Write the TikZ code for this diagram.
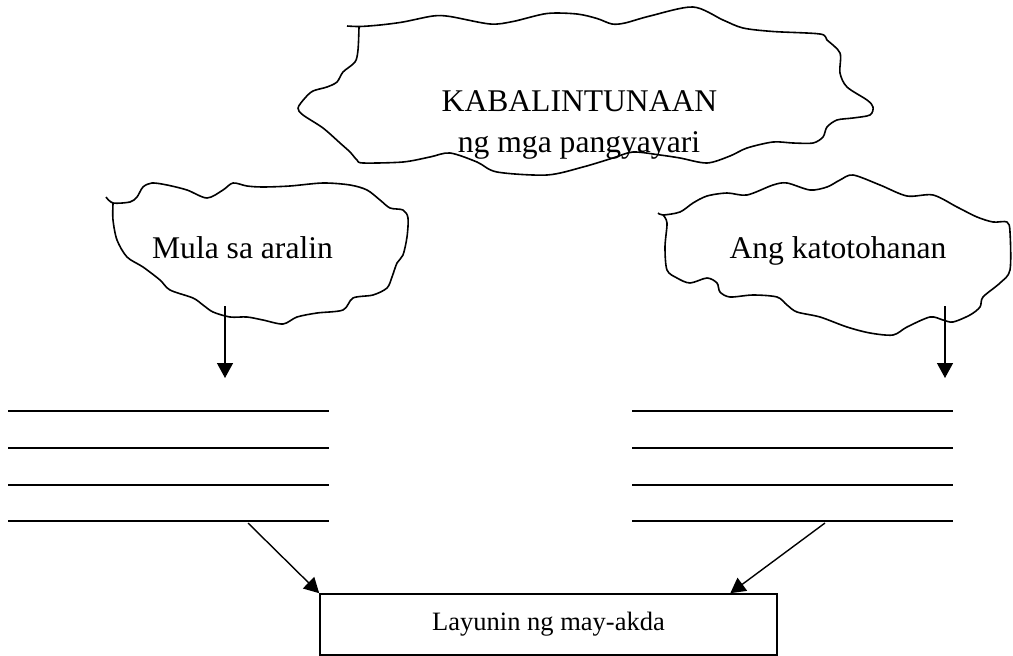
\documentclass[tikz,border=0pt]{standalone}
\usepackage{fontspec}
\setmainfont{Liberation Serif}
\usetikzlibrary{arrows.meta}
\begin{document}
\begin{tikzpicture}[x=1pt,y=-1pt,
  cloudline/.style={line width=1.6pt, line join=round},
  bigtext/.style={font=\fontsize{31.6}{41}\selectfont, inner sep=0pt, anchor=base},
  blank/.style={line width=1.2pt},
  arr/.style={line width=1.4pt, -{Triangle[length=15pt,width=16pt]}},
  goalbox/.style={draw, line width=1.6pt, minimum width=457pt, minimum height=61pt, inner sep=0pt, font=\fontsize{26.5}{30}\selectfont}]
\useasboundingbox (0,0) rectangle (1013,656);
% top cloud
\draw[cloudline] plot[smooth, tension=0.5] coordinates {
(347,26) (360,26.5) (380,25) (403,22) (433,16) (450,16.5) (490,24) (513,21.5) (547,13.5) (577,14) (597,18.5) (612,24) (625,23) (650,16) (693,7) (723,20) (743,28) (773,31.5) (820,34) (827,40) (840,53) (840,73) (847,87) (867,100) (873,107) (870,115) (853,118) (837,120) (827,127) (823,137) (813,143) (793,143) (773,142) (747,148) (730,156) (707,163) (680,158) (660,155) (633,152) (613,158) (583,167) (547,175) (497,172) (477,162) (450,153) (430,157) (403,162) (363,163) (357,160) (350,152) (340,143) (323,128) (303,115) (298,108) (305,98) (313,91) (327,87) (337,82) (343,72) (355,62) (358,50) (359,27)};
\node[bigtext] (title) at (579.5,111) {KABALINTUNAAN};
\node[bigtext] (subtitle) at (579,152) {ng mga pangyayari};
% left cloud
\draw[cloudline] plot[smooth, tension=0.5] coordinates {
(106,197) (113,203) (130,202) (137,197) (143,187) (152,183) (167,185) (187,190) (207,198) (223,190) (233,183) (247,186) (263,187) (290,186) (323,183) (350,185) (367,190) (380,200) (390,208) (403,210) (408,218) (407,237) (403,255) (397,263) (392,277) (387,288) (373,295) (353,298) (343,310) (317,313) (297,317) (283,324) (263,320) (247,317) (230,317) (213,312) (203,305) (193,298) (170,290) (160,280) (143,267) (127,257) (117,240) (113,220) (113,204)};
\node[bigtext] (mula) at (242.5,258) {Mula sa aralin};
% right cloud
\draw[cloudline] plot[smooth, tension=0.5] coordinates {
(658,213) (663,215) (680,212) (693,203) (707,196) (727,193) (747,195) (773,185) (787,183) (810,190) (827,187) (840,180) (853,175) (880,185) (907,196) (933,195) (957,207) (977,217) (993,222) (1007,222) (1010,232) (1010,270) (1000,283) (983,297) (980,307) (970,315) (953,322) (943,320) (930,317) (907,327) (893,335) (870,333) (847,327) (820,317) (797,312) (787,305) (777,297) (753,295) (730,297) (720,292) (717,283) (707,278) (690,283) (677,278) (667,270) (665,247) (667,223) (663,215)};
\node[bigtext] (ang) at (838,258) {Ang katotohanan};
% arrows from clouds
\coordinate (ls) at (225,306);
\coordinate (le) at (225,378);
\coordinate (rs) at (945,306);
\coordinate (re) at (945,378);
\draw[arr] (ls) -- (le);
\draw[arr] (rs) -- (re);
% blank lines
\foreach \i/\yy in {1/411,2/448,3/485,4/521}{
  \coordinate (L\i a) at (8,\yy);
  \coordinate (L\i b) at (329,\yy);
  \coordinate (R\i a) at (632,\yy);
  \coordinate (R\i b) at (953,\yy);
  \draw[blank] (L\i a) -- (L\i b);
  \draw[blank] (R\i a) -- (R\i b);
}
% goal box
\node[goalbox] (goal) at (548.5,624.5) {Layunin ng may-akda};
\coordinate (lf) at (248,523);
\coordinate (rf) at (825,523);
\draw[arr] (lf) -- (goal.north west);
\draw[arr] (rf) -- ([xshift=-47.5pt]goal.north east);
\end{tikzpicture}
\end{document}
